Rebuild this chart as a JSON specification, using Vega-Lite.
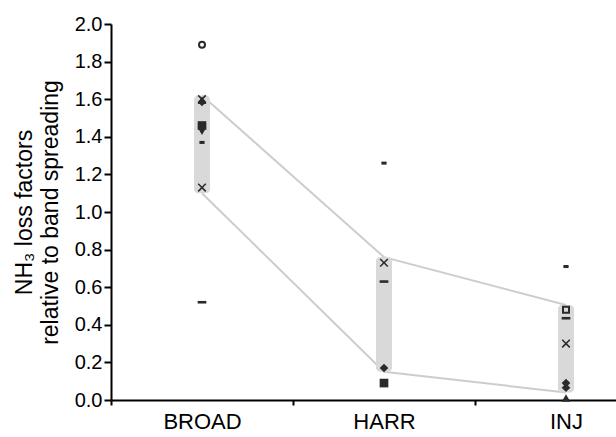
{
  "$schema": "https://vega.github.io/schema/vega-lite/v6.json",
  "autosize": {"type": "none"},
  "padding": {"left": 111, "top": 24, "right": 0, "bottom": 37},
  "width": 505,
  "height": 376,
  "background": "white",
  "config": {
    "view": {"stroke": null},
    "font": "Liberation Sans",
    "axis": {
      "domainColor": "black",
      "domainWidth": 2,
      "tickColor": "black",
      "tickWidth": 2,
      "labelColor": "black",
      "titleColor": "black",
      "labelFont": "Liberation Sans",
      "titleFont": "Liberation Sans",
      "titleFontWeight": "normal",
      "grid": false
    }
  },
  "datasets": {
    "bands": [
      {"method": "BROAD", "low": 1.10, "high": 1.62},
      {"method": "HARR", "low": 0.15, "high": 0.76},
      {"method": "INJ", "low": 0.04, "high": 0.505}
    ],
    "points": [
      {"method": "BROAD", "marker": "open circle", "value": 1.89},
      {"method": "BROAD", "marker": "x", "value": 1.60},
      {"method": "BROAD", "marker": "triangle-up", "value": 1.595},
      {"method": "BROAD", "marker": "diamond", "value": 1.585},
      {"method": "BROAD", "marker": "square", "value": 1.46},
      {"method": "BROAD", "marker": "triangle-down", "value": 1.43},
      {"method": "BROAD", "marker": "short dash", "value": 1.37},
      {"method": "BROAD", "marker": "x", "value": 1.13},
      {"method": "BROAD", "marker": "long dash", "value": 0.52},
      {"method": "HARR", "marker": "short dash", "value": 1.26},
      {"method": "HARR", "marker": "x", "value": 0.73},
      {"method": "HARR", "marker": "long dash", "value": 0.63},
      {"method": "HARR", "marker": "diamond", "value": 0.17},
      {"method": "HARR", "marker": "square", "value": 0.09},
      {"method": "INJ", "marker": "short dash", "value": 0.71},
      {"method": "INJ", "marker": "open square", "value": 0.48},
      {"method": "INJ", "marker": "long dash", "value": 0.435},
      {"method": "INJ", "marker": "x", "value": 0.30},
      {"method": "INJ", "marker": "diamond", "value": 0.09},
      {"method": "INJ", "marker": "diamond", "value": 0.065},
      {"method": "INJ", "marker": "triangle-up", "value": 0.01}
    ]
  },
  "encoding": {
    "x": {
      "field": "method",
      "type": "nominal",
      "sort": ["BROAD", "HARR", "INJ"],
      "scale": {"range": [0, 546], "paddingInner": 0, "paddingOuter": 0},
      "axis": {
        "title": null,
        "labelAngle": 0,
        "tickBand": "extent",
        "tickSize": 5,
        "labelFontSize": 22,
        "labelPadding": 6
      }
    },
    "y": {
      "field": "value",
      "type": "quantitative",
      "scale": {"domain": [0, 2], "nice": false, "zero": true},
      "axis": {
        "values": [0, 0.2, 0.4, 0.6, 0.8, 1.0, 1.2, 1.4, 1.6, 1.8, 2.0],
        "format": ".1f",
        "labelOverlap": false,
        "labelSeparation": 0,
        "labelFontSize": 20,
        "tickSize": 7,
        "labelPadding": 2,
        "title": ["NH₃ loss factors", "relative to band spreading"],
        "titleFontSize": 23,
        "titleLineHeight": 26,
        "titlePadding": 12
      }
    }
  },
  "layer": [
    {
      "data": {"name": "bands"},
      "mark": {"type": "line", "color": "#cdcdcd", "strokeWidth": 2},
      "encoding": {
        "y": {"field": "high", "type": "quantitative"}
      }
    },
    {
      "data": {"name": "bands"},
      "mark": {"type": "line", "color": "#cdcdcd", "strokeWidth": 2},
      "encoding": {
        "y": {"field": "low", "type": "quantitative"}
      }
    },
    {
      "data": {"name": "bands"},
      "mark": {"type": "bar", "color": "#d9d9d9", "size": 16, "cornerRadius": 4},
      "encoding": {
        "y": {"field": "low", "type": "quantitative"},
        "y2": {"field": "high"}
      }
    },
    {
      "data": {"name": "points"},
      "transform": [{"filter": "datum.marker !== 'open circle' && datum.marker !== 'open square'"}],
      "mark": {"type": "point", "filled": true, "size": 75, "opacity": 1, "color": "#2a2a2a"},
      "encoding": {
        "shape": {
          "field": "marker",
          "type": "nominal",
          "legend": null,
          "scale": {
            "domain": ["x", "triangle-up", "diamond", "square", "triangle-down", "short dash", "long dash"],
            "range": [
              "M-1,-0.75L-0.75,-1L0,-0.25L0.75,-1L1,-0.75L0.25,0L1,0.75L0.75,1L0,0.25L-0.75,1L-1,0.75L-0.25,0Z",
              "triangle-up",
              "diamond",
              "square",
              "triangle-down",
              "M-0.6,-0.35H0.6V0.35H-0.6Z",
              "M-1,-0.3H1V0.3H-1Z"
            ]
          }
        }
      }
    },
    {
      "data": {"name": "points"},
      "transform": [{"filter": "datum.marker === 'open circle' || datum.marker === 'open square'"}],
      "mark": {"type": "point", "filled": false, "size": 36, "strokeWidth": 2, "opacity": 1, "color": "#2a2a2a"},
      "encoding": {
        "shape": {
          "field": "marker",
          "type": "nominal",
          "legend": null,
          "scale": {"domain": ["open circle", "open square"], "range": ["circle", "square"]}
        }
      }
    }
  ],
  "resolve": {"scale": {"shape": "independent"}}
}
